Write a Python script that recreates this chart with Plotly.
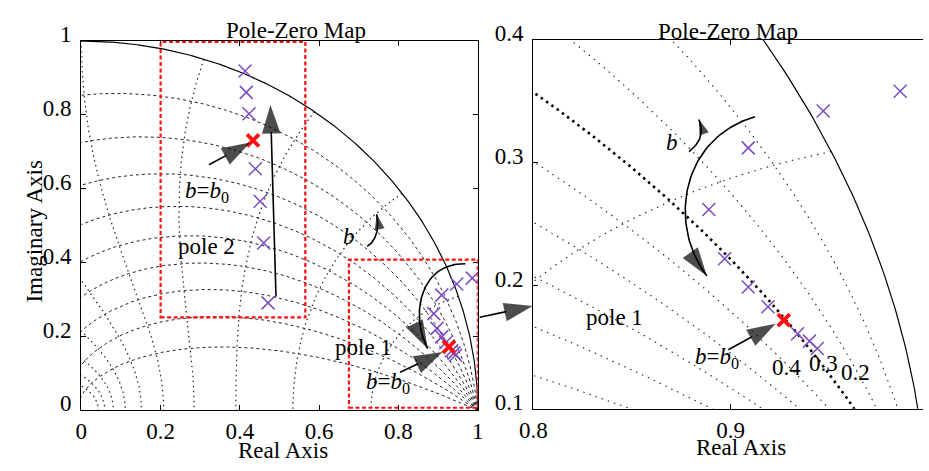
import numpy as np
import plotly.graph_objects as go

W, H = 929, 471
FONT = "Liberation Serif, Times New Roman, Times, serif"
FS = 23

# ---------------- data ----------------
pole2_re = [0.413, 0.416, 0.423, 0.439, 0.451, 0.460, 0.471]
pole2_im = [0.919, 0.861, 0.803, 0.654, 0.566, 0.453, 0.291]
pole2_nominal_re = [0.433]
pole2_nominal_im = [0.731]

pole1_re = [0.986, 0.947, 0.909, 0.889, 0.897, 0.909, 0.919, 0.934, 0.940, 0.944]
pole1_im = [0.358, 0.342, 0.312, 0.262, 0.222, 0.199, 0.183, 0.161, 0.155, 0.149]
pole1_nominal_re = [0.927]
pole1_nominal_im = [0.172]

# z-plane grid (MATLAB zgrid style)
zeta_values = [0.1, 0.2, 0.3, 0.4, 0.5, 0.6, 0.7, 0.8, 0.9]
wn_values_pi = [0.1, 0.2, 0.3, 0.4, 0.5, 0.6, 0.7, 0.8, 0.9, 1.0]   # wn*T / pi
highlight_zeta = 0.3

left_ticks = [0, 0.2, 0.4, 0.6, 0.8, 1]
left_ticktext = ["0", "0.2", "0.4", "0.6", "0.8", "1"]
right_xticks = [0.8, 0.9]
right_xticktext = ["0.8", "0.9"]
right_yticks = [0.1, 0.2, 0.3, 0.4]
right_yticktext = ["0.1", "0.2", "0.3", "0.4"]
zeta_labels = ["0.4", "0.3", "0.2"]

PURPLE = "#7B4BC2"
RED = "#FF1010"


def zeta_curve(z, n=2500):
    th = np.linspace(0, np.pi, n)
    a = z / np.sqrt(1 - z * z)
    r = np.exp(-a * th)
    return r * np.cos(th), r * np.sin(th)


def wn_curve(wpi, n=600):
    w = wpi * np.pi
    zt = np.linspace(0, 1, n)
    r = np.exp(-zt * w)
    th = w * np.sqrt(1 - zt ** 2)
    return r * np.cos(th), r * np.sin(th)


def bezier(p0, c1, c2, p1, n=60):
    t = np.linspace(0, 1, n)
    x = (1 - t) ** 3 * p0[0] + 3 * (1 - t) ** 2 * t * c1[0] + 3 * (1 - t) * t ** 2 * c2[0] + t ** 3 * p1[0]
    y = (1 - t) ** 3 * p0[1] + 3 * (1 - t) ** 2 * t * c1[1] + 3 * (1 - t) * t ** 2 * c2[1] + t ** 3 * p1[1]
    return list(x), list(y)


fig = go.Figure()


def line(x, y, xa, ya, dash="solid", width=1.0, color="black"):
    fig.add_trace(go.Scatter(x=list(x), y=list(y), xaxis=xa, yaxis=ya, mode="lines",
                             line=dict(color=color, width=width, dash=dash),
                             hoverinfo="skip", showlegend=False))


def arrow(x, y, xa, ya, size=30, width=1.6):
    n = len(x)
    fig.add_trace(go.Scatter(x=list(x), y=list(y), xaxis=xa, yaxis=ya, mode="lines+markers",
                             line=dict(color="black", width=width),
                             marker=dict(symbol="arrow", size=[0] * (n - 1) + [size],
                                         angleref="previous", color="black",
                                         line=dict(width=0)),
                             hoverinfo="skip", showlegend=False))


# ---------------- left: grid ----------------
for z in zeta_values:
    gx, gy = zeta_curve(z)
    line(gx, gy, "x", "y", dash="3px,3px", width=1, color="#222")
for w in wn_values_pi:
    gx, gy = wn_curve(w)
    line(gx, gy, "x", "y", dash="1.5px,3.5px", width=1.2, color="#222")
th = np.linspace(0, np.pi / 2, 300)
line(np.cos(th), np.sin(th), "x", "y", width=1.2)

# ---------------- right: grid ----------------
for z in zeta_values:
    gx, gy = zeta_curve(z)
    if z == highlight_zeta:
        line(gx, gy, "x2", "y2", dash="2.5px,4px", width=2.6, color="black")
    else:
        line(gx, gy, "x2", "y2", dash="1.5px,5px", width=1.1, color="#222")
for w in wn_values_pi:
    gx, gy = wn_curve(w)
    line(gx, gy, "x2", "y2", dash="1.5px,5px", width=1.1, color="#222")
line(np.cos(th), np.sin(th), "x2", "y2", width=1.2)

# ---------------- red boxes (left) ----------------
for (x0, x1, y0, y1) in [(0.2, 0.565, 0.252, 0.998), (0.675, 1.0, 0.007, 0.408)]:
    fig.add_shape(type="rect", xref="x", yref="y", x0=x0, x1=x1, y0=y0, y1=y1,
                  line=dict(color=RED, width=2.2, dash="4px,2.5px"))

# ---------------- poles ----------------
for xa, ya in [("x", "y"), ("x2", "y2")]:
    fig.add_trace(go.Scatter(x=pole2_re + pole1_re, y=pole2_im + pole1_im, xaxis=xa, yaxis=ya,
                             mode="markers", showlegend=False, hoverinfo="skip",
                             marker=dict(symbol="x-thin", size=13,
                                         line=dict(color=PURPLE, width=1.5))))
    fig.add_trace(go.Scatter(x=pole2_nominal_re + pole1_nominal_re,
                             y=pole2_nominal_im + pole1_nominal_im, xaxis=xa, yaxis=ya,
                             mode="markers", showlegend=False, hoverinfo="skip",
                             marker=dict(symbol="x-thin", size=12,
                                         line=dict(color=RED, width=3.8))))

# ---------------- arrows (left) ----------------
arrow([0.322, 0.426], [0.665, 0.725], "x", "y")
arrow([0.491, 0.477], [0.308, 0.827], "x", "y")
arrow([0.804, 0.911], [0.103, 0.158], "x", "y")
bx, by = bezier((0.721, 0.444), (0.745, 0.46), (0.752, 0.495), (0.745, 0.531))
arrow(bx, by, "x", "y", size=16)
bx, by = bezier((0.969, 0.397), (0.85, 0.40), (0.83, 0.25), (0.874, 0.167))
arrow(bx, by, "x", "y")

# ---------------- arrows (right) ----------------
arrow([0.8989, 0.9228], [0.148, 0.1692], "x2", "y2")
bx, by = bezier((0.879, 0.309), (0.886, 0.318), (0.886, 0.326), (0.884, 0.335))
arrow(bx, by, "x2", "y2", size=16)
bx, by = bezier((0.9124, 0.3372), (0.875, 0.32), (0.868, 0.25), (0.888, 0.208))
arrow(bx, by, "x2", "y2", size=30)

# cross-panel arrow (pixel overlay axes)
arrow([476, 530], [315, 303], "x3", "y3")

# ---------------- text ----------------
B0 = "<i>b</i>=<i>b</i><sub>0</sub>"
texts = [
    ("x", "y", 0.317, 0.59, B0),
    ("x", "y", 0.317, 0.443, "pole 2"),
    ("x", "y", 0.676, 0.47, "<i>b</i>"),
    ("x", "y", 0.711, 0.171, "pole 1"),
    ("x", "y", 0.774, 0.073, B0),
    ("x2", "y2", 0.8703, 0.3167, "<i>b</i>"),
    ("x2", "y2", 0.841, 0.1744, "pole 1"),
    ("x2", "y2", 0.893, 0.141, B0),
    ("x2", "y2", 0.9282, 0.1334, zeta_labels[0]),
    ("x2", "y2", 0.9472, 0.1367, zeta_labels[1]),
    ("x2", "y2", 0.9636, 0.1295, zeta_labels[2]),
]
for xr, yr, x, y, t in texts:
    fig.add_annotation(xref=xr, yref=yr, x=x, y=y, text=t, showarrow=False,
                       font=dict(family=FONT, size=FS, color="black"),
                       xanchor="center", yanchor="middle")

# titles and axis labels (pixel positions on overlay axes)
labels = [
    (288, 12, "Pole-Zero Map", 0),
    (730, 13, "Pole-Zero Map", 0),
    (275, 456, "Real Axis", 0),
    (743, 453, "Real Axis", 0),
    (21, 225, "Imaginary Axis", -90),
    (930, 434, "1", 0),
]
for x, y, t, ang in labels:
    fig.add_annotation(xref="x3", yref="y3", x=x, y=y, text=t, showarrow=False,
                       textangle=ang,
                       font=dict(family=FONT, size=FS, color="black"),
                       xanchor="center", yanchor="middle")

TICKFONT = dict(family=FONT, size=FS, color="black")
axis_common = dict(showgrid=False, zeroline=False, showline=True, linecolor="black",
                   linewidth=1.3, ticks="inside", ticklen=5, tickcolor="black",
                   tickwidth=1, tickfont=TICKFONT)

fig.update_layout(
    width=W, height=H,
    font=dict(family=FONT, size=FS, color="black"),
    margin=dict(l=0, r=0, t=0, b=0),
    paper_bgcolor="white", plot_bgcolor="rgba(0,0,0,0)",
    showlegend=False,
    xaxis=dict(domain=[68.8 / W, 474 / W], range=[0, 1], tickvals=left_ticks,
               ticktext=left_ticktext, mirror="ticks", anchor="y", **axis_common),
    yaxis=dict(domain=[1 - 413.3 / H, 1 - 23.3 / H], range=[0, 1], tickvals=left_ticks,
               ticktext=left_ticktext, mirror="ticks", anchor="x", ticklabelshift=-7,
               ticklabelstandoff=4, **axis_common),
    xaxis2=dict(domain=[530.7 / W, 1.0], range=[0.8, 0.8 + (W - 530.7) / 2016],
                tickvals=right_xticks, ticktext=right_xticktext, mirror="ticks",
                anchor="y2", **axis_common),
    yaxis2=dict(domain=[1 - 411.7 / H, 1 - 21.7 / H], range=[0.1, 0.4],
                tickvals=right_yticks, ticktext=right_yticktext, mirror=False,
                anchor="x2", ticklabelshift=-7, ticklabelstandoff=4, **axis_common),
    xaxis3=dict(domain=[0, 1], range=[0, W], visible=False, anchor="y3"),
    yaxis3=dict(domain=[0, 1], range=[H, 0], visible=False, anchor="x3"),
)

fig.write_html("out.html")
